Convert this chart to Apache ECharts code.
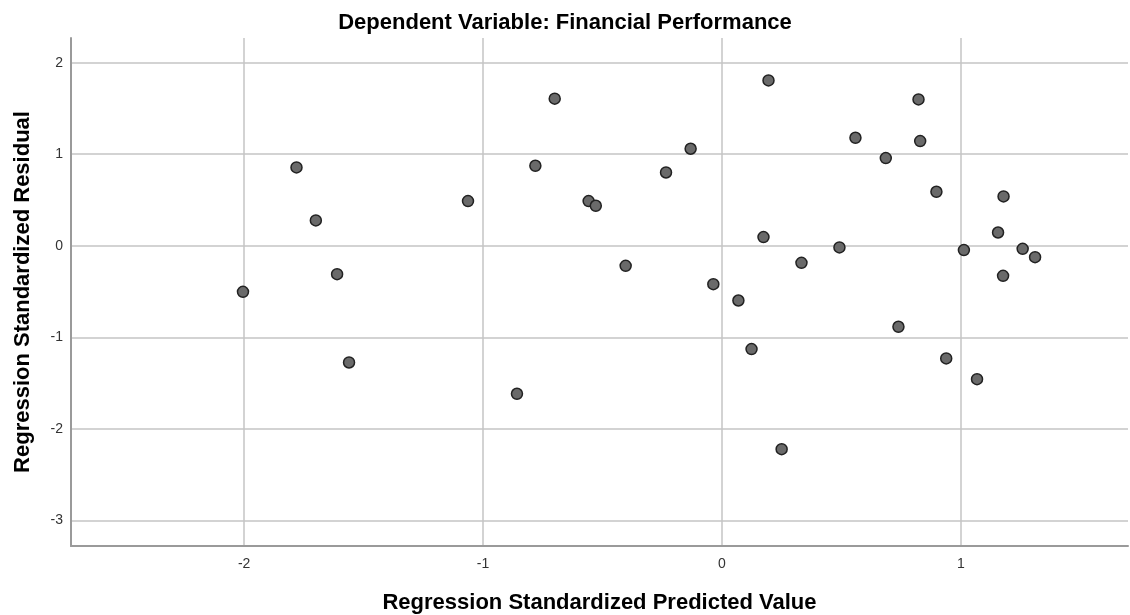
<!DOCTYPE html>
<html lang="en">
<head>
    <meta charset="UTF-8">
    <title>Scatterplot</title>
    <script src="https://cdn.jsdelivr.net/npm/echarts@6/dist/echarts.min.js"></script>
    <style>
        html, body, #main {
            width: 100%;
            height: 100%;
            padding: 0;
            margin: 0;
            background: #fff;
        }
    </style>
</head>
<body>
<div id="main"></div>
<script>
    // standardized predicted values (x) and residuals (y)
    var predicted = [-2.005, -1.781, -1.700, -1.611, -1.561, -1.063, -0.858, -0.781, -0.700,
        -0.558, -0.528, -0.403, -0.234, -0.131, -0.036, 0.069, 0.124, 0.174, 0.195, 0.250,
        0.333, 0.492, 0.559, 0.686, 0.739, 0.823, 0.830, 0.898, 0.939, 1.013, 1.068, 1.156,
        1.177, 1.179, 1.259, 1.311];
    var residual = [-0.503, 0.856, 0.277, -0.310, -1.275, 0.488, -1.617, 0.874, 1.607,
        0.488, 0.437, -0.219, 0.801, 1.060, -0.419, -0.598, -1.129, 0.095, 1.807, -2.222,
        -0.186, -0.018, 1.180, 0.958, -0.885, 1.599, 1.144, 0.590, -1.231, -0.047, -1.457, 0.145,
        -0.328, 0.539, -0.033, -0.124];
    var xTicks = [-2, -1, 0, 1];
    var yTicks = [-3, -2, -1, 0, 1, 2];

    var points = predicted.map(function (x, i) { return [x, residual[i]]; });

    var font = '"Liberation Sans", Arial, sans-serif';
    var myChart = echarts.init(document.getElementById('main'));
    myChart.setOption({
        animation: false,
        title: {
            text: 'Dependent Variable: Financial Performance',
            left: 'center',
            top: 7,
            textStyle: { fontFamily: font, fontSize: 22, fontWeight: 'bold', color: '#000' }
        },
        grid: { left: 71, right: 2, top: 38, bottom: 69, outerBoundsMode: 'none', containLabel: false },
        xAxis: {
            type: 'value',
            min: -2.725,
            max: 1.70,
            name: 'Regression Standardized Predicted Value',
            nameLocation: 'middle',
            nameGap: 46,
            nameTextStyle: { fontFamily: font, fontSize: 22, fontWeight: 'bold', color: '#000' },
            axisLine: { show: true, onZero: false, lineStyle: { color: '#9a9a9a', width: 2 } },
            axisTick: { show: false, customValues: xTicks },
            axisLabel: { customValues: xTicks, fontFamily: font, fontSize: 14, color: '#333', margin: 11 },
            splitLine: { show: true, lineStyle: { color: '#c4c4c4', width: 1.5 } }
        },
        yAxis: {
            type: 'value',
            min: -3.28,
            max: 2.27,
            name: 'Regression Standardized Residual',
            nameLocation: 'middle',
            nameGap: 37,
            nameTextStyle: { fontFamily: font, fontSize: 22, fontWeight: 'bold', color: '#000' },
            axisLine: { show: true, onZero: false, lineStyle: { color: '#9a9a9a', width: 2 } },
            axisTick: { show: false, customValues: yTicks },
            axisLabel: { customValues: yTicks, fontFamily: font, fontSize: 14, color: '#333', margin: 8, padding: [4, 0, 0, 0] },
            splitLine: { show: true, lineStyle: { color: '#c4c4c4', width: 1.5 } }
        },
        series: [{
            type: 'scatter',
            data: points,
            symbol: 'circle',
            symbolSize: 11,
            itemStyle: { color: '#6a6a6a', borderColor: '#222', borderWidth: 1.5, opacity: 1 }
        }]
    });
</script>
</body>
</html>
